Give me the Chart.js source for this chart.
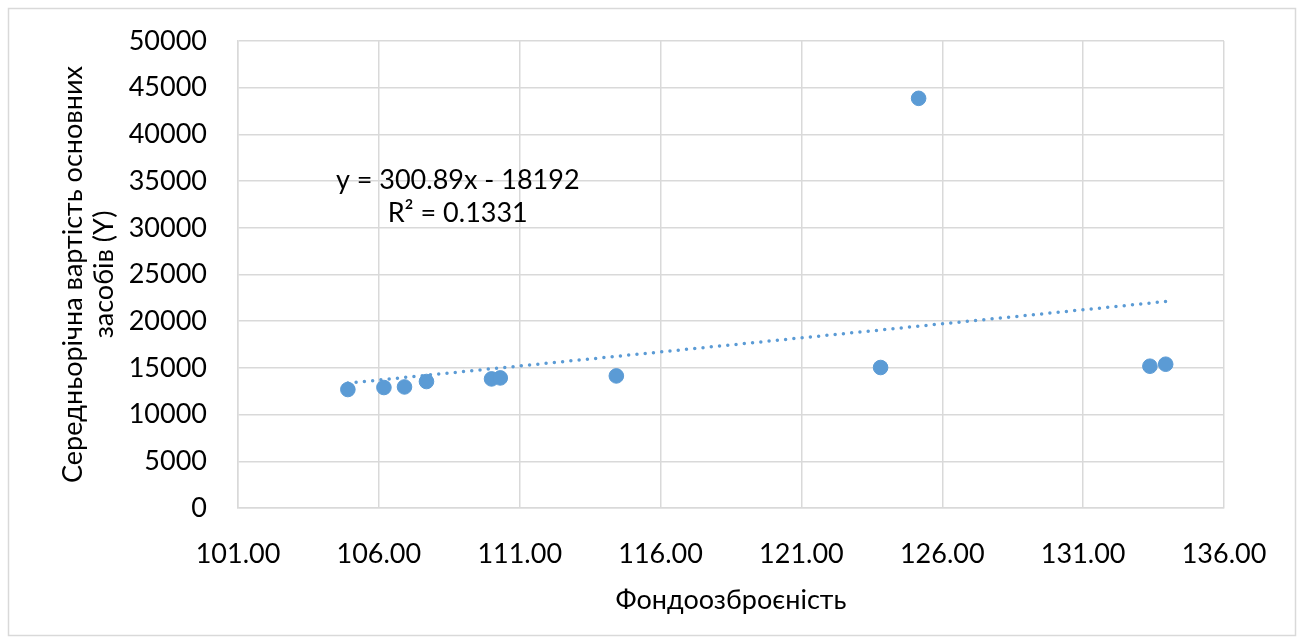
<!DOCTYPE html>
<html>
<head>
<meta charset="utf-8">
<script src="https://cdn.jsdelivr.net/npm/chart.js@4/dist/chart.umd.min.js"></script>
<style>
  html, body { margin: 0; padding: 0; background: #fff; }
  canvas { display: block; }
</style>
</head>
<body>
<canvas id="chart" width="1304" height="644"></canvas>
<script>
// Data
const xValues = [104.90, 106.18, 106.91, 107.69, 110.00, 110.31, 114.43, 123.81, 125.16, 133.37, 133.93];
const yValues = [12685, 12899, 12963, 13542, 13820, 13927, 14142, 15042, 43861, 15181, 15395];

// Linear trendline, as printed on the chart
const slope = 300.89;
const intercept = -18192;
const eqLines = ["y = 300.89x - 18192", "R\u00b2 = 0.1331"];

const xTitle = "Фондоозброєність";
const yTitle = ["Середньорічна вартість основних", "засобів (Y)"];

const pointColor = '#5B9BD5';
const FONT = 'Lato, "Open Sans", sans-serif';

let points = xValues.map((x, i) => ({ x: x, y: yValues[i] }));
let xMin = Math.min(...xValues), xMax = Math.max(...xValues);
let trend = [xMin, xMax].map(x => ({ x: x, y: slope * x + intercept }));

// frame + equation text
const extras = {
    id: 'extras',
    beforeDraw(chart) {
        const c = chart.ctx;
        c.save();
        c.fillStyle = '#fff';
        c.fillRect(0, 0, chart.width, chart.height);
        c.strokeStyle = '#d9d9d9';
        c.lineWidth = 1.5;
        c.strokeRect(8.5, 8.5, chart.width - 17, chart.height - 17);
        c.restore();
    },
    afterDatasetsDraw(chart) {
        const c = chart.ctx;
        const xs = chart.scales.x, ys = chart.scales.y;
        c.save();
        c.font = '27px ' + FONT;
        c.fillStyle = '#000';
        c.textAlign = 'center';
        c.textBaseline = 'middle';
        c.fillText(eqLines[0], xs.getPixelForValue(108.8), ys.getPixelForValue(35100));
        c.fillText(eqLines[1], xs.getPixelForValue(108.8), ys.getPixelForValue(31600));
        c.restore();
    }
};

new Chart(document.getElementById('chart'), {
    type: 'scatter',
    data: {
        datasets: [{
            label: 'data',
            data: points,
            backgroundColor: pointColor,
            borderColor: pointColor,
            pointRadius: 7.3,
            pointHoverRadius: 7.3
        }, {
            label: 'trend',
            type: 'line',
            data: trend,
            showLine: true,
            borderColor: pointColor,
            borderWidth: 3.5,
            borderDash: [0, 8.3],
            borderCapStyle: 'round',
            pointRadius: 0,
            fill: false
        }]
    },
    plugins: [extras],
    options: {
        responsive: false,
        animation: false,
        devicePixelRatio: 1,
        layout: { padding: { left: 0, top: 41, right: 80, bottom: 0 } },
        plugins: {
            legend: { display: false },
            tooltip: { enabled: false }
        },
        scales: {
            x: {
                type: 'linear',
                min: 101,
                max: 136,
                afterFit: s => { s.height = 136; s.paddingLeft = 0; s.paddingRight = 0; },
                ticks: {
                    stepSize: 5,
                    padding: 30,
                    color: '#000',
                    font: { family: FONT, size: 27 },
                    callback: v => v.toFixed(2)
                },
                grid: { color: '#d9d9d9', lineWidth: 1.5, drawTicks: false },
                border: { color: '#d9d9d9', width: 1.5 },
                title: {
                    display: true,
                    text: xTitle,
                    color: '#000',
                    font: { family: FONT, size: 27 },
                    padding: { top: 4, bottom: 28 }
                }
            },
            y: {
                min: 0,
                max: 50000,
                afterFit: s => { s.width = 238; s.paddingTop = 0; s.paddingBottom = 0; },
                ticks: {
                    stepSize: 5000,
                    padding: 31,
                    color: '#000',
                    font: { family: FONT, size: 27 },
                    callback: v => String(v)
                },
                grid: { color: '#d9d9d9', lineWidth: 1.5, drawTicks: false },
                border: { color: '#d9d9d9', width: 1.5 },
                title: {
                    display: true,
                    text: yTitle,
                    color: '#000',
                    font: { family: FONT, size: 27, lineHeight: 1.15 },
                    padding: { bottom: 0, top: 58 }
                }
            }
        }
    }
});
</script>
</body>
</html>
